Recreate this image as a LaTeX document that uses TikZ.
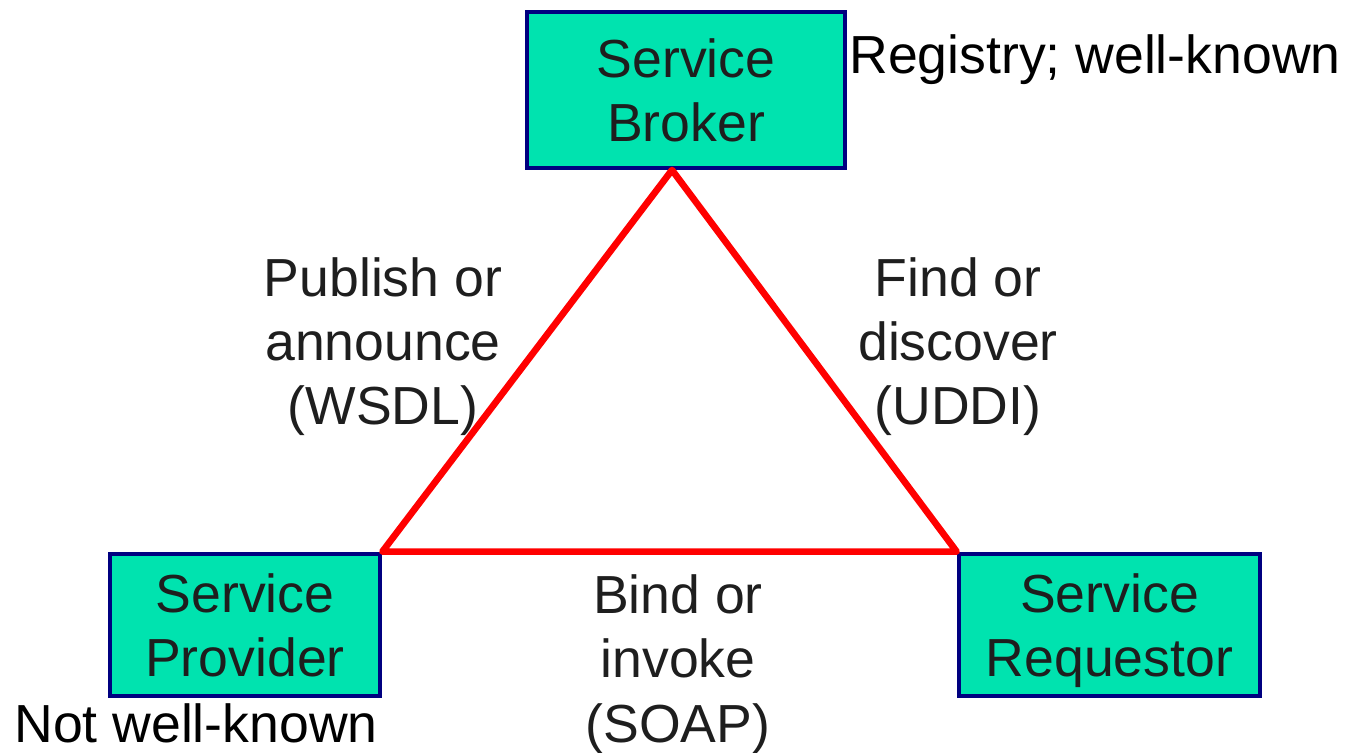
\documentclass[tikz,border=0pt]{standalone}
\usepackage{fontspec}
\setmainfont{Liberation Sans}
\usetikzlibrary{positioning}
\definecolor{rolefill}{HTML}{00E3AF}
\definecolor{roleline}{HTML}{000080}
\definecolor{linkred}{HTML}{FF0000}
\definecolor{inkgray}{HTML}{1E1E1E}
\tikzset{
  rolebox/.style={
    draw=roleline,
    fill=rolefill,
    line width=2.7pt,
    inner sep=0pt,
    text depth=0pt,
    align=center,
    text=inkgray,
    font=\fontsize{30.5}{36.5}\selectfont
  },
  linklabel/.style={
    align=center,
    text=inkgray,
    font=\fontsize{30.5}{36.5}\selectfont
  },
  link/.style={
    draw=linkred,
    line width=3.8pt,
    line join=round
  }
}

\begin{document}
\begin{tikzpicture}[x=0.02cm, y=-0.02cm]
\useasboundingbox (0,0) rectangle (1348,753);
% the three roles
\node[rolebox, minimum width=6.36cm, minimum height=3.12cm] (broker) at (686,90) {Service\\Broker};
\node[rolebox, minimum width=5.4cm, minimum height=2.84cm, text depth=-0.2cm] (provider) at (245,625) {Service\\Provider};
\node[rolebox, minimum width=6.02cm, minimum height=2.84cm, text depth=-0.2cm] (requestor) at (1109.5,625) {Service\\Requestor};
\coordinate (apex) at (672,170);
% interactions between them
\draw[link] (apex) -- (provider.north east) -- (requestor.north west) -- cycle;
\node[linklabel] (publish) at (383,347) {Publish or\\announce\\(WSDL)};
\node[linklabel] (find) at (958,347) {Find or\\discover\\(UDDI)};
\node[linklabel] (bind) at (678,664) {Bind or\\invoke\\(SOAP)};
\node[linklabel, text=black] (registry) at (1095,60) {Registry; well-known};
\node[linklabel, text=black] (notknown) at (196,723) {Not well-known};
\end{tikzpicture}
\end{document}
